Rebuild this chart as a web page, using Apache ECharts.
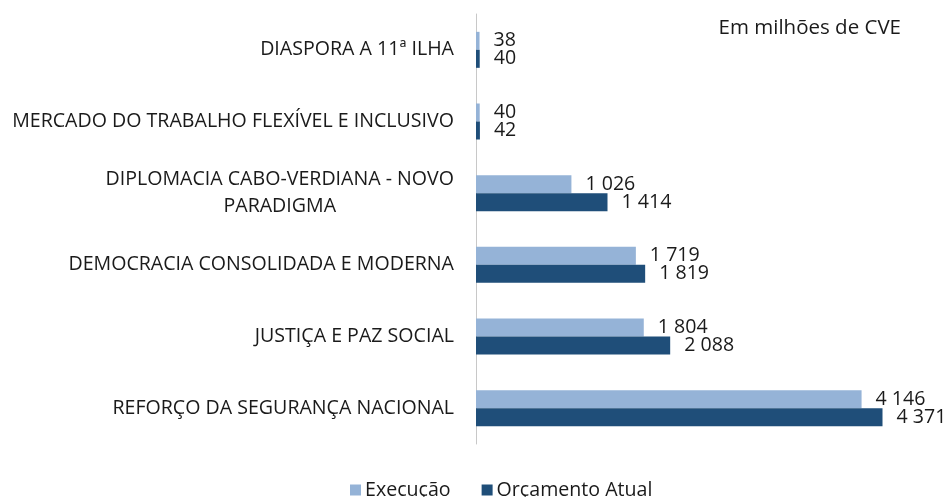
<!DOCTYPE html>
<html>
<head>
<meta charset="utf-8">
<script src="https://cdn.jsdelivr.net/npm/echarts@6/dist/echarts.min.js"></script>
<style>html,body{margin:0;padding:0;background:#fff}#c{width:951px;height:497px}</style>
</head>
<body>
<div id="c"></div>
<script>
const categories = [
  "DIASPORA A 11ª ILHA",
  "MERCADO DO TRABALHO FLEXÍVEL E INCLUSIVO",
  "DIPLOMACIA CABO-VERDIANA - NOVO\nPARADIGMA",
  "DEMOCRACIA CONSOLIDADA E MODERNA",
  "JUSTIÇA E PAZ SOCIAL",
  "REFORÇO DA SEGURANÇA NACIONAL"
];
const execucao = [38, 40, 1026, 1719, 1804, 4146];
const orcamento = [40, 42, 1414, 1819, 2088, 4371];
const seriesNames = ["Execução", "Orçamento Atual"];
const unitNote = "Em milhões de CVE";

const FONT = "'Open Sans', 'Noto Sans', sans-serif";
const FS = 19.6;

function measure(t) {
  const ctx = document.createElement('canvas').getContext('2d');
  ctx.font = FS + "px 'Open Sans'";
  return ctx.measureText(t).width;
}
function fmt(v) { return String(v).replace(/\B(?=(\d{3})+(?!\d))/g, ' '); }

let maxLineW = 0;
categories.forEach(c => c.split('\n').forEach(l => { if (c.includes('\n')) maxLineW = Math.max(maxLineW, measure(l)); }));

const chart = echarts.init(document.getElementById('c'), null, {renderer: 'canvas'});
chart.setOption({
  animation: false,
  textStyle: {fontFamily: FONT},
  title: {
    text: unitNote, right: 45, top: 13,
    textStyle: {fontFamily: FONT, fontSize: 20.5, fontWeight: 'normal', color: '#1a1a1a'}
  },
  legend: {
    data: seriesNames, left: 345, top: 475,
    itemWidth: 11, itemHeight: 11, itemGap: 31,
    icon: 'rect',
    textStyle: {fontFamily: FONT, fontSize: FS, color: '#1a1a1a', padding: [0,0,0,-1]}
  },
  grid: {left: 476, top: 14, right: 10, bottom: 53, outerBoundsMode: 'none', containLabel: false},
  xAxis: {type: 'value', min: 0, max: 5000, show: false, splitLine: {show: false}},
  yAxis: {
    type: 'category', data: categories, inverse: true,
    axisLine: {show: true, lineStyle: {color: '#C8C8C8', width: 1}},
    axisTick: {show: false},
    axisLabel: {
      margin: 22, color: '#1a1a1a', fontFamily: FONT, fontSize: FS, lineHeight: 27,
      formatter: function (v) {
        if (v.indexOf('\n') < 0) return v;
        return v.split('\n').map(l => '{w|' + l + '}').join('\n');
      },
      rich: {w: {width: maxLineW, align: 'center', fontFamily: FONT, fontSize: FS, color: '#1a1a1a', lineHeight: 27}}
    }
  },
  series: [
    {
      name: seriesNames[0], type: 'bar', data: execucao,
      barWidth: 18, barGap: '0%',
      itemStyle: {color: '#95B3D7'},
      label: {show: true, position: 'right', distance: 14, color: '#1a1a1a', fontFamily: FONT, fontSize: FS, formatter: p => fmt(p.value)}
    },
    {
      name: seriesNames[1], type: 'bar', data: orcamento,
      barWidth: 18, barGap: '0%',
      itemStyle: {color: '#1F4E79'},
      label: {show: true, position: 'right', distance: 14, color: '#1a1a1a', fontFamily: FONT, fontSize: FS, formatter: p => fmt(p.value)}
    }
  ]
});
</script>
</body>
</html>
